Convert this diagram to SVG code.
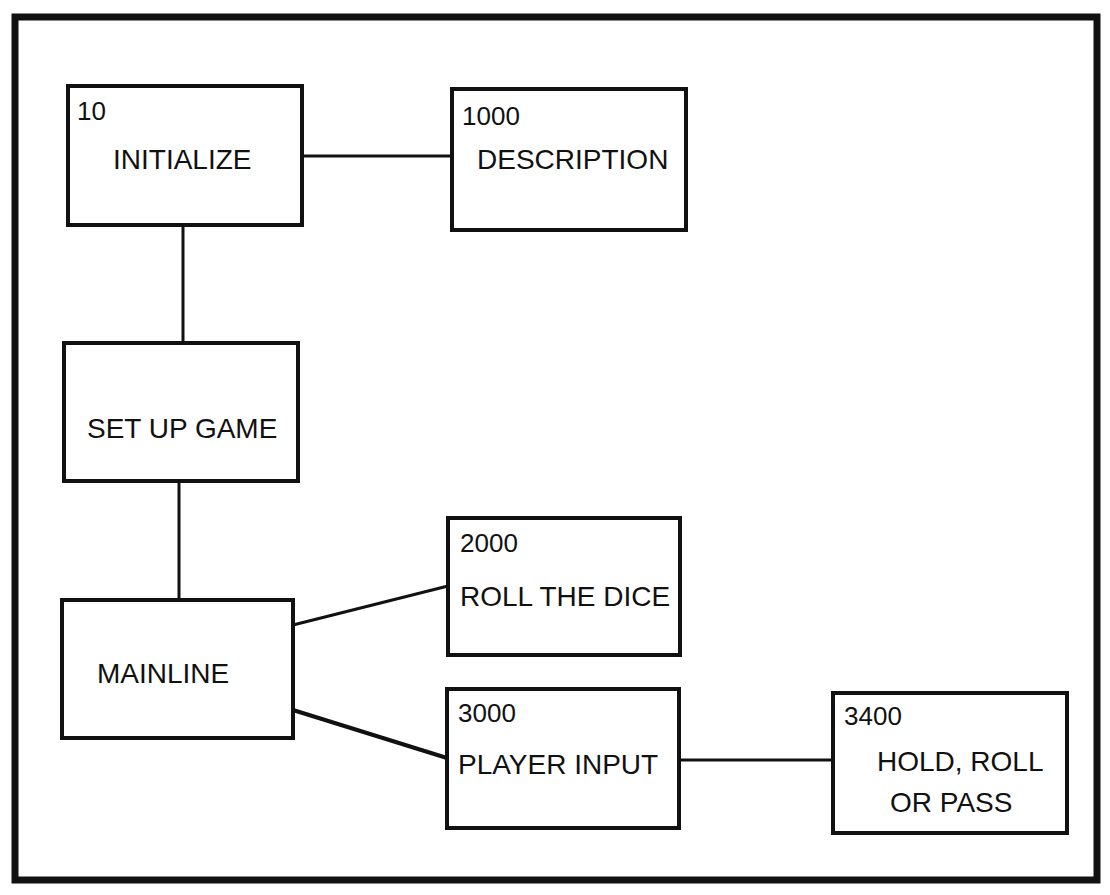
<svg xmlns="http://www.w3.org/2000/svg" width="1110" height="895" viewBox="0 0 1110 895">
<style>
.box{fill:#fff;stroke:#111;stroke-width:4}
.ln{stroke:#111;stroke-width:3;fill:none}
text{font-family:"Liberation Sans",Arial,sans-serif;font-size:28px;fill:#111}
.num{font-size:26px}
</style>
<rect x="0" y="0" width="1110" height="895" fill="#fff"/>
<rect x="15" y="17" width="1082" height="863" fill="none" stroke="#111" stroke-width="7"/>
<g id="connectors">
<line class="ln" x1="302" y1="156" x2="452" y2="156"/>
<line class="ln" x1="183" y1="225" x2="183" y2="343"/>
<line class="ln" x1="179" y1="481" x2="179" y2="600"/>
<line class="ln" x1="293" y1="625" x2="448" y2="586"/>
<line class="ln" x1="293" y1="710" x2="447" y2="758" style="stroke-width:4"/>
<line class="ln" x1="679" y1="760" x2="833" y2="760"/>
</g>
<g id="initialize">
<rect class="box" x="68" y="86" width="234" height="139"/>
<text class="num" x="77" y="120">10</text>
<text x="113" y="169">INITIALIZE</text>
</g>
<g id="description">
<rect class="box" x="452" y="89" width="234" height="141"/>
<text class="num" x="462" y="125">1000</text>
<text x="477" y="169">DESCRIPTION</text>
</g>
<g id="setup">
<rect class="box" x="64" y="343" width="234" height="138"/>
<text x="87" y="438">SET UP GAME</text>
</g>
<g id="mainline">
<rect class="box" x="62" y="600" width="231" height="138"/>
<text x="97" y="683">MAINLINE</text>
</g>
<g id="roll">
<rect class="box" x="448" y="518" width="232" height="137"/>
<text class="num" x="460" y="552">2000</text>
<text x="460" y="606">ROLL THE DICE</text>
</g>
<g id="player">
<rect class="box" x="447" y="689" width="232" height="139"/>
<text class="num" x="458" y="722">3000</text>
<text x="458" y="774">PLAYER INPUT</text>
</g>
<g id="hold">
<rect class="box" x="833" y="693" width="234" height="140"/>
<text class="num" x="844" y="725">3400</text>
<text x="877" y="771">HOLD, ROLL</text>
<text x="890" y="812">OR PASS</text>
</g>
</svg>
